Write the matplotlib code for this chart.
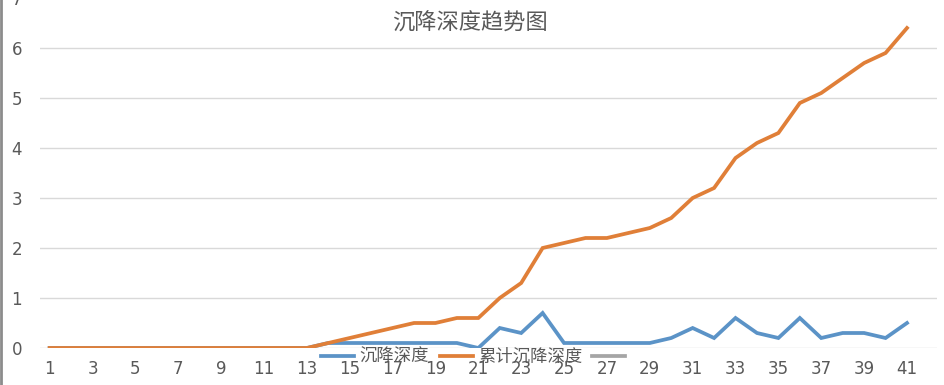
import matplotlib
matplotlib.use("Agg")
import matplotlib.pyplot as plt
from matplotlib.lines import Line2D

plt.rcParams['font.family'] = ['Noto Sans CJK SC', 'DejaVu Sans']

categories = list(range(1, 42))
settlement = [0, 0, 0, 0, 0, 0, 0, 0, 0, 0, 0, 0, 0,
              0.1, 0.1, 0.1, 0.1, 0.1, 0.1, 0.1, 0.0, 0.4, 0.3, 0.7,
              0.1, 0.1, 0.1, 0.1, 0.1, 0.2, 0.4, 0.2, 0.6, 0.3, 0.2,
              0.6, 0.2, 0.3, 0.3, 0.2, 0.5]
cumulative = [0, 0, 0, 0, 0, 0, 0, 0, 0, 0, 0, 0, 0,
              0.1, 0.2, 0.3, 0.4, 0.5, 0.5, 0.6, 0.6, 1.0, 1.3, 2.0,
              2.1, 2.2, 2.2, 2.3, 2.4, 2.6, 3.0, 3.2, 3.8, 4.1, 4.3,
              4.9, 5.1, 5.4, 5.7, 5.9, 6.4]
third_series = []
series_names = ['沉降深度', '累计沉降深度', ' ']
title = '沉降深度趋势图'
xtick_labels = [str(c) for c in categories[::2]]
yticks = [0, 1, 2, 3, 4, 5, 6, 7]

fig = plt.figure(figsize=(9.44, 3.85), dpi=100)
ax = fig.add_axes([40/944, 1 - 348/385, (937-40)/944, (348+2)/385])

c_blue = '#5b93c7'
c_orange = '#e07f38'
c_gray = '#a5a5a5'

ax.plot(categories, settlement, color=c_blue, lw=2.7, label=series_names[0], solid_joinstyle='miter', zorder=3)
ax.plot(categories, cumulative, color=c_orange, lw=2.7, label=series_names[1], solid_joinstyle='miter', zorder=3)
ax.plot(categories[:len(third_series)], third_series, color=c_gray, lw=2.7, label=series_names[2])

ax.set_xlim(0.55, 42.4)
ax.set_ylim(0, 7)
ax.set_yticks(yticks)
ax.set_xticks(categories[::2])
ax.set_xticklabels(xtick_labels)
ax.grid(axis='y', color='#d9d9d9', lw=1)
ax.set_axisbelow(True)
for s in ax.spines.values():
    s.set_visible(False)
ax.tick_params(axis='both', length=0, labelsize=12, colors='#595959')
ax.tick_params(axis='y', pad=13)
ax.tick_params(axis='x', pad=9)
for t in ax.get_yticklabels():
    t.set_family('DejaVu Sans')
for t in ax.get_xticklabels():
    t.set_family('DejaVu Sans')

fig.text(470/944, 1 - 23/385, title, ha='center', va='center', fontsize=16, color='#595959')

leg = ax.legend(loc='center', bbox_to_anchor=(478/944, 1 - 357/385), bbox_transform=fig.transFigure,
                ncol=3, frameon=False, fontsize=12.5, handlelength=1.9, handletextpad=0.3,
                columnspacing=0.6)
for t in leg.get_texts():
    t.set_color('#595959')

fig.add_artist(Line2D([0.0015, 0.0015], [0, 1], transform=fig.transFigure, color='#8c8c8c', lw=2))

fig.savefig('out.png', dpi=100)
